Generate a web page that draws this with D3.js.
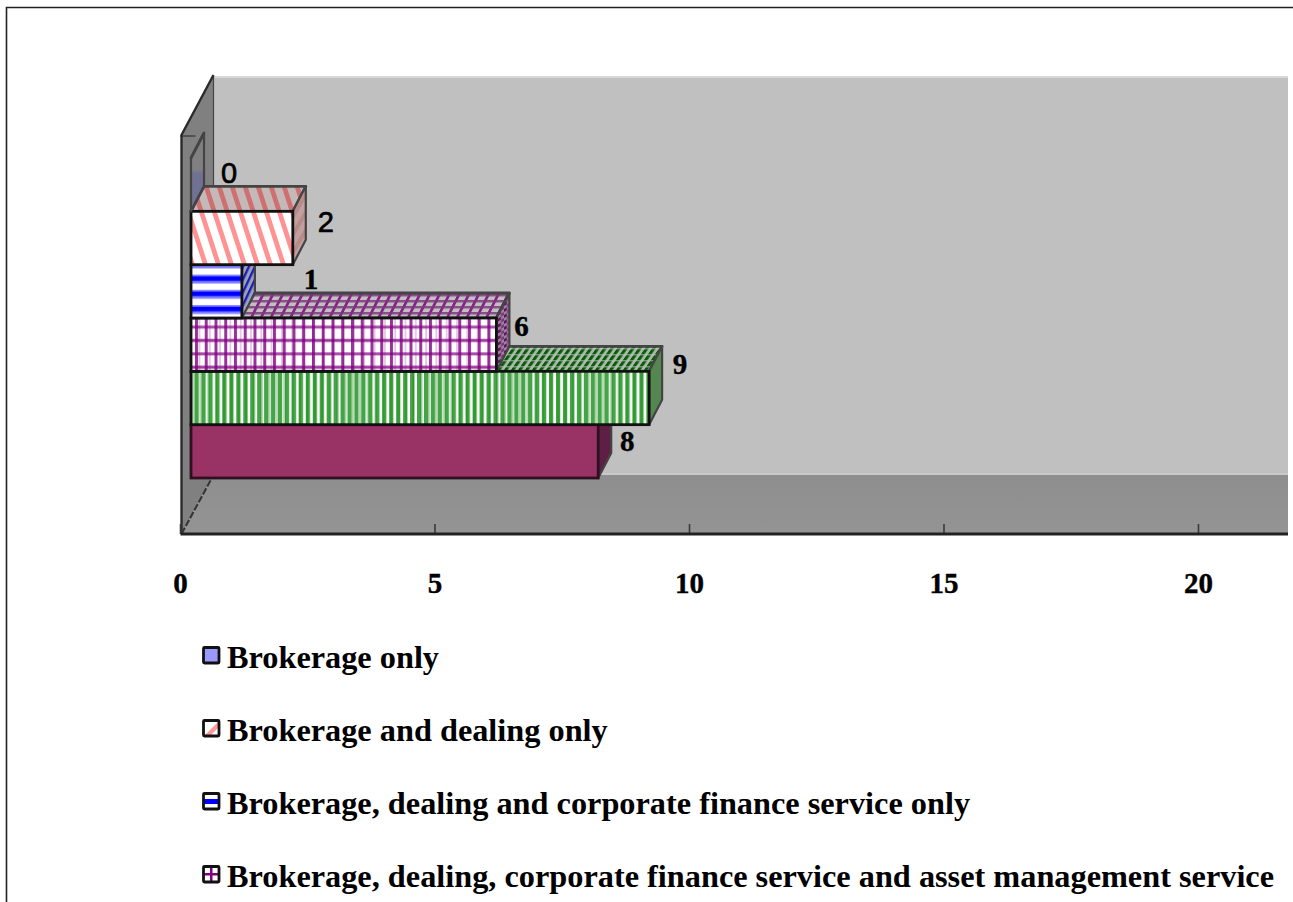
<!DOCTYPE html>
<html><head><meta charset="utf-8">
<script src="https://cdn.jsdelivr.net/npm/d3@7/dist/d3.min.js"></script>
<style>html,body{margin:0;padding:0;background:#fff;overflow:hidden}svg{display:block}</style>
</head><body><div id="c"></div>
<script>
const values = [0, 2, 1, 6, 9, 8];
const categoryKeys = ["a", "b", "c", "d", "e", "f"];
const legendLabels = [
  "Brokerage only",
  "Brokerage and dealing only",
  "Brokerage, dealing and corporate finance service only",
  "Brokerage, dealing, corporate finance service and asset management service"
];
const tickValues = [0, 5, 10, 15, 20];
const labelFonts = ["sans", "sans", "serif", "serif", "serif", "serif"];

const W = 1293, H = 902;
const svg = d3.select("#c").append("svg").attr("width", W).attr("height", H);
const defs = svg.append("defs");
const FONT = "'Liberation Serif','Times New Roman',serif";
const SANS = "'Liberation Sans',Arial,sans-serif";

const x = d3.scaleLinear().domain([0, 20]).range([180, 1198]);
const y = d3.scaleBand().domain(categoryKeys).range([158, 478]).padding(0);
const dx = 13, dy = -25, barOff = 11;
const right = 1288, floorY = 534, backY = 475, topY = 76;
const wallDx = 33;

function pat(id, w, h, draw, bg, tr) {
  const p = defs.append("pattern").attr("id", id).attr("patternUnits", "userSpaceOnUse")
    .attr("width", w).attr("height", h);
  if (tr) p.attr("patternTransform", tr);
  if (bg) p.append("rect").attr("width", w).attr("height", h).attr("fill", bg);
  draw(p);
}
const r = (p, x0, y0, w, h, f, o) => p.append("rect").attr("x", x0).attr("y", y0).attr("width", w).attr("height", h).attr("fill", f).attr("opacity", o == null ? 1 : o);

pat("redF", 13, 40, p => r(p, 0, -5, 5, 50, "#ff9292"), "#fff", "skewX(18)");
pat("redT", 13, 40, p => r(p, 0, -5, 5, 50, "#cf7070"), "#c4b8b8", "skewX(18)");
pat("redS", 9, 9, p => r(p, 0, 0, 4, 9, "#b88a8a"), "#c2a0a0", "rotate(30)");
pat("blueF", 10, 15.2, p => { r(p, 0, 1, 10, 1.5, "#8888ff"); r(p, 0, 2.5, 10, 5, "#0000ff"); r(p, 0, 7.5, 10, 2.5, "#8080ff"); }, "#fff");
pat("blueS", 6, 7, p => r(p, 0, 0, 2.5, 7, "#1a1ab8"), "#9aa0b8", "skewX(-25)");
pat("purF1", 9.75, 13.4, p => { r(p, 0, 0, 3, 13.4, "#800080", .8); r(p, 0, 4, 9.75, 3, "#800080", .7); }, null);
pat("purF2", 10.3, 26.8, p => { r(p, 3, 0, 1.6, 26.8, "#800080", .25); r(p, 0, 17, 10.3, 3, "#800080", .2); }, null);
pat("purT", 9.8, 6, p => { r(p, 0, 0, 3, 6, "#800080", .85); r(p, 0, 0, 9.8, 2.4, "#7a3a7a", .85); }, "#c0c0c0", "skewX(-27)");
pat("purS", 6, 6, p => { r(p, 0, 0, 3, 3, "#5a1a5a"); r(p, 3, 3, 3, 3, "#7a3a7a"); }, "#a080a0", "skewY(-30)");
pat("grnF1", 6.95, 20, p => r(p, 0, 0, 4.2, 20, "#008000", .72), null);
pat("grnF2", 7.6, 20, p => r(p, 2, 0, 2.6, 20, "#008000", .3), null);
pat("grnT", 7, 6, p => { r(p, 0, 0, 3.6, 6, "#065c06"); r(p, 0, 0, 7, 1.4, "#c0c0c0", .6); }, "#aab8aa", "skewX(-35)");

const blueFade = defs.append("linearGradient").attr("id", "blueFade").attr("gradientUnits", "userSpaceOnUse")
  .attr("x1", 0).attr("x2", 0).attr("y1", 170).attr("y2", 173);
blueFade.append("stop").attr("offset", 0).attr("stop-color", "#5a5ab0").attr("stop-opacity", 0);
blueFade.append("stop").attr("offset", 1).attr("stop-color", "#5a5ab0").attr("stop-opacity", .4);

const styles = [
  {front: ["none"], top: "none", side: "url(#blueFade)"},
  {front: ["url(#redF)"], top: "url(#redT)", side: "url(#redS)"},
  {front: ["url(#blueF)"], top: "url(#blueS)", side: "url(#blueS)"},
  {front: ["#fff", "url(#purF1)", "url(#purF2)"], top: "url(#purT)", side: "url(#purS)"},
  {front: ["#fff", "url(#grnF1)", "url(#grnF2)"], top: "url(#grnT)", side: "#53874f"},
  {front: ["#993366"], top: "#7a2a52", side: "#5f1f44"}
];

defs.append("clipPath").attr("id", "plot").append("rect").attr("x", 0).attr("y", 0).attr("width", right).attr("height", H);

const g0 = svg.append("g");
g0.append("path").attr("d", `M6.5,${H}V7.5H${W}`).attr("fill", "none").attr("stroke", "#222").attr("stroke-width", 1.6);

const g = svg.append("g").attr("clip-path", "url(#plot)");
const x0 = x(0) + 1.5;
const pts = a => a.map(p => p.join(",")).join(" ");
g.append("polygon").attr("points", pts([[x0 + wallDx - 1, topY], [right, topY], [right, backY], [x0 + wallDx - 1, backY]])).attr("fill", "#c0c0c0");
g.append("rect").attr("x", x0 + wallDx - 1).attr("y", topY).attr("width", right - x0).attr("height", 2).attr("fill", "#d6d6d6");
g.append("rect").attr("x", x0 + wallDx - 1).attr("y", backY - 2).attr("width", right - x0).attr("height", 2).attr("fill", "#cacaca");
const floorG = defs.append("linearGradient").attr("id", "floorG").attr("x1", 0).attr("y1", 0).attr("x2", 0).attr("y2", 1);
floorG.append("stop").attr("offset", 0).attr("stop-color", "#8e8e8e");
floorG.append("stop").attr("offset", 1).attr("stop-color", "#949494");
g.append("polygon").attr("points", pts([[x0, floorY], [x0 + wallDx - 1, backY], [right, backY], [right, floorY]])).attr("fill", "url(#floorG)");
g.append("polygon").attr("points", pts([[x0, 135], [x0 + wallDx - 1, topY], [x0 + wallDx - 1, backY], [x0, floorY]])).attr("fill", "#808080");
g.append("line").attr("x1", x0 + wallDx - 1).attr("x2", x0 + wallDx - 1).attr("y1", topY).attr("y2", backY).attr("stroke", "#444").attr("stroke-width", 1.2);
g.append("polyline").attr("points", pts([[x0, floorY], [x0, 135], [x0 + wallDx - 1, topY - 1]])).attr("fill", "none").attr("stroke", "#2b2b2b").attr("stroke-width", 2.4);
g.append("line").attr("x1", x0).attr("x2", x0 + wallDx - 1).attr("y1", floorY).attr("y2", backY).attr("stroke", "#333").attr("stroke-width", 2).attr("stroke-dasharray", "7 2");
g.append("line").attr("x1", x0 - 1).attr("x2", x0 + 14).attr("y1", 136).attr("y2", 136).attr("stroke", "#222").attr("stroke-width", 1);

const order = d3.range(values.length).reverse();
const bx = x(0) + barOff;
order.forEach(i => {
  const v = values[i], st = styles[i];
  const y0 = y(categoryKeys[i]), h = y.bandwidth();
  const xr = bx + (x(v) - x(0));
  const bar = g.append("g");
  const edge = "#444";
  bar.append("polygon").attr("points", pts([[bx, y0], [bx + dx, y0 + dy], [xr + dx, y0 + dy], [xr, y0]]))
    .attr("fill", st.top).attr("stroke", edge).attr("stroke-width", 2.8).attr("stroke-linejoin", "round");
  bar.append("polygon").attr("points", pts([[xr, y0], [xr + dx, y0 + dy], [xr + dx, y0 + h + dy], [xr, y0 + h]]))
    .attr("fill", st.side).attr("stroke", edge).attr("stroke-width", 2.2).attr("stroke-linejoin", "round");
  st.front.forEach(f => bar.append("rect").attr("x", bx).attr("y", y0).attr("width", xr - bx).attr("height", h).attr("fill", f));
  if (i > 0) bar.append("rect").attr("x", bx).attr("y", y0).attr("width", xr - bx).attr("height", h)
    .attr("fill", "none").attr("stroke", i === 5 ? "#2e1020" : "#111").attr("stroke-width", 2.8);
});

const axis = d3.axisBottom(x).tickValues(tickValues).tickSize(-10).tickPadding(46);
const ag = svg.append("g").attr("transform", `translate(0,${floorY})`).call(axis);
ag.select(".domain").remove();
ag.selectAll(".tick line").attr("stroke", "#3a3a3a").attr("stroke-width", 1.6);
ag.selectAll(".tick text").attr("font-family", FONT).attr("font-weight", "bold").attr("font-size", 29).attr("fill", "#000").attr("stroke", "#000").attr("stroke-width", .4).attr("dy", 0).attr("y", 59);
svg.append("line").attr("x1", x0 - 1).attr("x2", right).attr("y1", floorY).attr("y2", floorY).attr("stroke", "#222").attr("stroke-width", 3);

const labelDx = [38, 33, 69, 25, 31, 29];
const labelDy = [25, 21, 24, 18, 3, 26];
svg.append("g").selectAll("text").data(values).join("text")
  .attr("x", (d, i) => bx + x(d) - x(0) + labelDx[i])
  .attr("y", (d, i) => y(categoryKeys[i]) + labelDy[i])
  .attr("text-anchor", "middle").attr("fill", "#000").attr("stroke", "#000")
  .attr("stroke-width", (d, i) => labelFonts[i] === "sans" ? .7 : .4)
  .attr("font-family", (d, i) => labelFonts[i] === "sans" ? SANS : FONT)
  .attr("font-weight", (d, i) => labelFonts[i] === "sans" ? "normal" : "bold")
  .attr("font-size", 29)
  .text(d => d);

const ly = d3.scalePoint().domain(legendLabels).range([658, 877]);
const lg = svg.append("g").selectAll("g").data(legendLabels).join("g").attr("transform", d => `translate(0,${ly(d)})`);
lg.append("rect").attr("x", 203.5).attr("y", -10.5).attr("width", 15.5).attr("height", 15.5).attr("fill", (d, i) => i === 0 ? "#9999ff" : "#fff");
lg.each(function (d, i) {
  const s = d3.select(this);
  if (i === 1) s.append("polygon").attr("points", pts([[204, 5], [219, -10], [219, -4], [210, 5]])).attr("fill", "#ff9a9a");
  if (i === 2) s.append("rect").attr("x", 204).attr("y", -5).attr("width", 15).attr("height", 5).attr("fill", "#0000ff");
  if (i === 3) {
    s.append("rect").attr("x", 210).attr("y", -10).attr("width", 2.5).attr("height", 15).attr("fill", "#800080");
    s.append("rect").attr("x", 204).attr("y", -4).attr("width", 15).attr("height", 2.5).attr("fill", "#800080");
  }
});
lg.append("rect").attr("x", 203.5).attr("y", -10.5).attr("width", 15.5).attr("height", 15.5).attr("fill", "none").attr("stroke", "#111").attr("stroke-width", 2.8).attr("rx", 1);
lg.append("text").attr("x", 227).attr("y", 10).attr("font-family", FONT).attr("font-weight", "bold").attr("font-size", 32.3).attr("fill", "#000").text(d => d);
</script></body></html>
